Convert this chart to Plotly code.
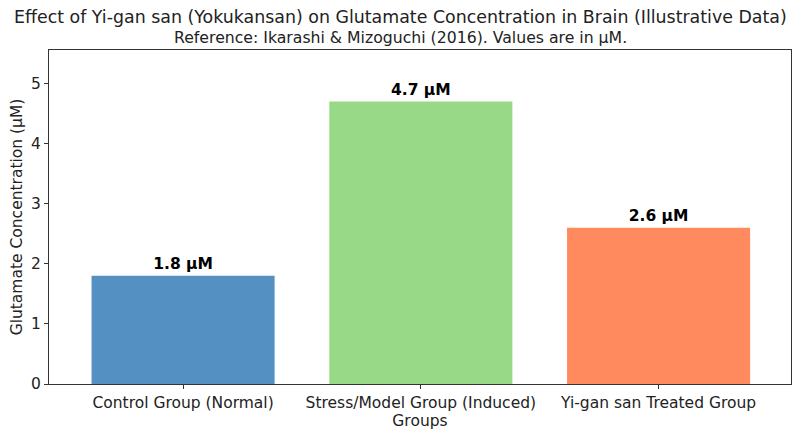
import plotly.graph_objects as go

groups = ["Control Group (Normal)", "Stress/Model Group (Induced)", "Yi-gan san Treated Group"]
glutamate_um = [1.8, 4.7, 2.6]
bar_colors = ["rgb(85,144,194)", "rgb(152,217,136)", "rgb(255,138,94)"]
y_ticks = [0, 1, 2, 3, 4, 5]

FONT = "DejaVu Sans"

fig = go.Figure(data=[
    go.Bar(
        x=list(range(len(groups))),
        y=glutamate_um,
        width=0.77,
        marker=dict(color=bar_colors, line=dict(width=0)),
        text=[f"<b>{v} μM</b>" for v in glutamate_um],
        textposition="outside",
        textfont=dict(family=FONT, size=15.5, color="black"),
        cliponaxis=False,
    )
])

fig.update_layout(
    width=800,
    height=436,
    margin=dict(l=49, r=9, t=50, b=52),
    plot_bgcolor="white",
    paper_bgcolor="white",
    showlegend=False,
    font=dict(family=FONT, size=15.5, color="#222"),
)

# title + subtitle as annotations, centred on the page (not the plot area)
page_mid = (400 - 49) / (800 - 49 - 9)
fig.add_annotation(
    text="Effect of Yi-gan san (Yokukansan) on Glutamate Concentration in Brain (Illustrative Data)",
    xref="paper", yref="paper", x=page_mid, y=1, yshift=33,
    xanchor="center", yanchor="middle", showarrow=False,
    font=dict(family=FONT, size=17.4, color="#222"),
)
fig.add_annotation(
    text="Reference: Ikarashi &amp; Mizoguchi (2016). Values are in μM.",
    xref="paper", yref="paper", x=page_mid, y=1, yshift=13,
    xanchor="center", yanchor="middle", showarrow=False,
    font=dict(family=FONT, size=15.7, color="#222"),
)

fig.update_xaxes(
    tickvals=list(range(len(groups))),
    ticktext=groups,
    range=[-0.564, 2.557],
    automargin=False,
    showline=True, linecolor="#333", linewidth=1.2, mirror=True,
    ticks="outside", ticklen=4, tickcolor="#333",
    showgrid=False, zeroline=False,
    tickfont=dict(size=15.5),
    title=dict(text="Groups", font=dict(size=15.5), standoff=2),
)
fig.update_yaxes(
    tickvals=y_ticks,
    range=[0, 5.557],
    automargin=False,
    showline=True, linecolor="#333", linewidth=1.2, mirror=True,
    ticks="outside", ticklen=4, tickcolor="#333",
    showgrid=False, zeroline=False,
    tickfont=dict(size=15.5),
    title=dict(text="Glutamate Concentration (μM)", font=dict(size=15.5), standoff=4),
)

# drop the browser's default 8px body margin so the 800x436 figure fills the window
fig.write_html(
    "out.html",
    config={"displayModeBar": False},
    post_script="document.body.style.margin='0';",
)
